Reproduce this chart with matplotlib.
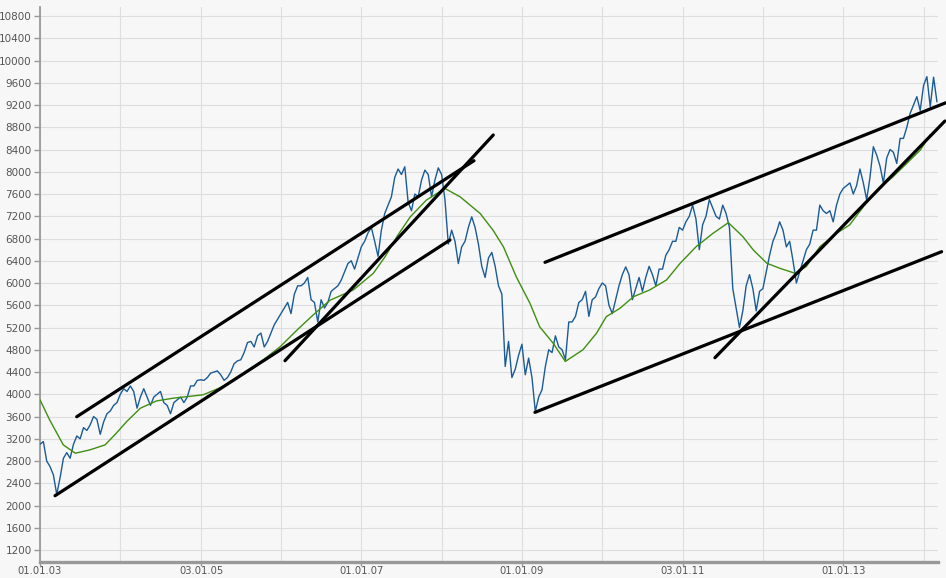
import matplotlib
matplotlib.use("Agg")
import matplotlib.pyplot as plt
import numpy as np

dax_2003 = [3100, 3150, 2800, 2700, 2550, 2200, 2500, 2850, 2950, 2850, 3100, 3250,
            3200, 3400, 3350, 3450, 3600, 3550, 3280, 3500, 3650, 3700, 3800, 3850]
dax_2004 = [4000, 4100, 4050, 4150, 4050, 3750, 3950, 4100, 3950, 3800, 3950, 4000,
            4050, 3850, 3800, 3650, 3850, 3900, 3950, 3850, 3950, 4150, 4150, 4250]
dax_2005 = [4260, 4250, 4300, 4380, 4400, 4420, 4350, 4250, 4300, 4400, 4550, 4600,
            4620, 4750, 4930, 4950, 4850, 5050, 5100, 4850, 4950, 5100, 5250, 5350]
dax_2006 = [5450, 5550, 5650, 5450, 5800, 5950, 5950, 6000, 6100, 5700, 5650, 5300,
            5700, 5550, 5650, 5850, 5900, 5950, 6050, 6200, 6350, 6400, 6250, 6450]
dax_2007 = [6650, 6750, 6900, 7000, 6750, 6480, 6950, 7250, 7400, 7550, 7900, 8050,
            7950, 8090, 7450, 7300, 7600, 7550, 7850, 8030, 7950, 7550, 7850, 8070]
dax_2008 = [7950, 7500, 6700, 6950, 6750, 6350, 6650, 6750, 7000, 7190, 7000, 6700,
            6300, 6100, 6450, 6550, 6300, 5950, 5800, 4500, 4950, 4300, 4450, 4700]
dax_2009 = [4900, 4350, 4650, 4300, 3690, 3950, 4080, 4500, 4800, 4750, 5050, 4850,
            4800, 4620, 5300, 5300, 5400, 5650, 5700, 5850, 5400, 5700, 5750, 5900]
dax_2010 = [6000, 5950, 5600, 5450, 5700, 5950, 6150, 6290, 6150, 5700, 5900, 6100,
            5850, 6100, 6300, 6150, 5950, 6250, 6250, 6500, 6600, 6750, 6750, 7000]
dax_2011 = [6950, 7100, 7200, 7400, 7150, 6600, 7050, 7200, 7500, 7350, 7200, 7150,
            7400, 7250, 7000, 5900, 5550, 5200, 5500, 5950, 6150, 5900, 5500, 5850]
dax_2012 = [5900, 6200, 6500, 6750, 6900, 7100, 6950, 6650, 6750, 6400, 6000, 6200,
            6400, 6600, 6700, 6950, 6950, 7400, 7300, 7250, 7300, 7100, 7400, 7600]
dax_2013 = [7700, 7750, 7800, 7600, 7750, 8050, 7800, 7500, 7900, 8450, 8300, 8100,
            7800, 8250, 8400, 8350, 8150, 8600, 8600, 8800, 9050, 9200, 9350, 9100]
dax_2014 = [9550, 9710, 9170, 9700, 9260]

# 200-day average (green): (year fraction, level)
ma_time = [2003.00, 2003.12, 2003.29, 2003.44, 2003.62, 2003.81, 2003.95, 2004.08,
           2004.25, 2004.45, 2004.66, 2005.03, 2005.28, 2005.57, 2005.78, 2005.99,
           2006.20, 2006.40, 2006.61, 2006.90, 2007.15, 2007.30, 2007.45, 2007.61,
           2007.81, 2008.04, 2008.23, 2008.48, 2008.64, 2008.77, 2008.93, 2009.10,
           2009.22, 2009.39, 2009.54, 2009.76, 2009.93, 2010.05, 2010.22, 2010.39,
           2010.59, 2010.80, 2010.97, 2011.17, 2011.38, 2011.57, 2011.75, 2011.88,
           2012.05, 2012.21, 2012.40, 2012.54, 2012.71, 2012.92, 2013.08, 2013.25,
           2013.42, 2013.62, 2013.79, 2013.96, 2014.08]
ma_value = [3900, 3540, 3090, 2940, 3000, 3090, 3300, 3510,
            3750, 3880, 3930, 3990, 4140, 4410, 4620, 4855,
            5155, 5425, 5690, 5875, 6175, 6480, 6850, 7190,
            7490, 7700, 7550, 7250, 6950, 6650, 6110, 5635,
            5215, 4915, 4590, 4800, 5100, 5395, 5545, 5755,
            5875, 6055, 6355, 6655, 6895, 7085, 6835, 6595,
            6355, 6265, 6175, 6295, 6655, 6895, 7045, 7370,
            7670, 7910, 8150, 8390, 8660]

# hand drawn trend lines: (start year, start level, end year, end level)
trend_lines = [
    (2003.457, 3596, 2008.403, 8199),
    (2003.187, 2176, 2008.104, 6773),
    (2006.050, 4603, 2008.643, 8661),
    (2009.287, 6372, 2014.278, 9241),
    (2009.162, 3675, 2014.225, 6563),
    (2011.403, 4657, 2014.266, 8912),
]

x_ticks = [2003.0, 2005.005, 2007.0, 2009.0, 2011.005, 2013.0]
x_labels = ["01.01.03", "03.01.05", "01.01.07", "01.01.09", "03.01.11", "01.01.13"]
x_minor = [2004.0, 2006.0, 2008.0, 2010.0, 2012.0, 2014.0]
y_ticks = list(range(1200, 10801, 400))

years = list(range(2003, 2015))
values = [dax_2003, dax_2004, dax_2005, dax_2006, dax_2007, dax_2008,
          dax_2009, dax_2010, dax_2011, dax_2012, dax_2013, dax_2014]
t = np.concatenate([y + np.arange(len(v)) / 24 for y, v in zip(years, values)])
price = np.concatenate(values)

bg = "#f7f7f7"
fig = plt.figure(figsize=(9.46, 5.78), dpi=100, facecolor=bg)
ax = fig.add_axes([40 / 946, (578 - 561.7) / 578, (938 - 40) / 946, (561.7 - 7) / 578])
ax.set_facecolor(bg)

ax.plot(t, price, color="#1b5b97", lw=1.0, zorder=3)
ax.plot(ma_time, ma_value, color="#3f8f12", lw=1.0, zorder=4)
for x0, y0, x1, y1 in trend_lines:
    ax.plot([x0, x1], [y0, y1], color="black", lw=2.3, solid_capstyle="round",
            zorder=5, clip_on=False)

ax.set_xlim(2003.0, 2014.18)
ax.set_ylim(990, 10962)

ax.set_yticks(y_ticks)
ax.set_yticklabels([str(v) for v in y_ticks])
ax.set_xticks(x_ticks)
ax.set_xticklabels(x_labels)
ax.set_xticks(x_minor, minor=True)

ax.grid(True, which="both", color="#dedede", lw=0.8, zorder=0)
ax.set_axisbelow(True)

for s in ["top", "right"]:
    ax.spines[s].set_visible(False)
ax.spines["left"].set_color("#999999")
ax.spines["left"].set_linewidth(1.3)
ax.spines["bottom"].set_color("#999999")
ax.spines["bottom"].set_linewidth(2.4)

ax.tick_params(axis="y", which="major", colors="#999999", length=4, width=1,
               labelsize=7.5, labelcolor="#555555", pad=2)
ax.tick_params(axis="x", which="major", colors="#999999", length=3, width=1,
               labelsize=7.2, labelcolor="#555555", pad=0)
ax.tick_params(axis="x", which="minor", length=0)

fig.savefig("out.png", dpi=100, facecolor=bg)
